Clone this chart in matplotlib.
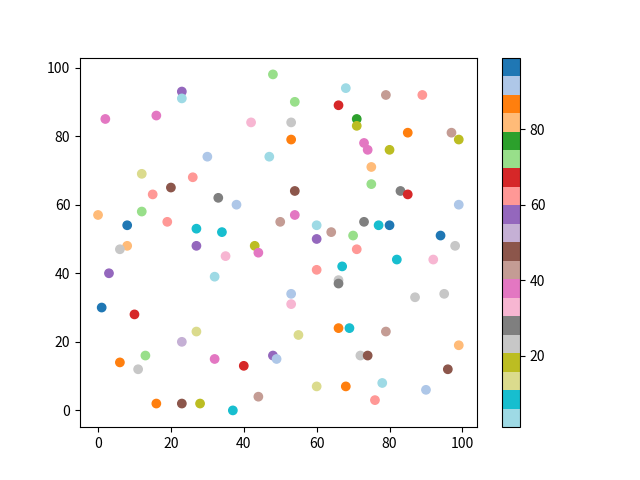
import matplotlib
matplotlib.use("Agg")
import matplotlib.pyplot as plt

plt.rcParams['font.family'] = ['Noto Sans CJK SC', 'DejaVu Sans']

# points: x, y and colour value
x = [48, 23, 23, 2, 16, 42, 30, 47, 12, 26, 20, 15, 33, 38, 0, 12, 8, 19, 27, 34,
     50, 68, 79, 89, 54, 66, 53, 71, 71, 53, 85, 97, 99, 73, 74, 80, 75, 75, 54, 83,
     85, 99, 54, 60, 64, 73, 77, 80, 94, 60, 70, 98, 71, 8, 6, 27, 43, 44, 35, 3,
     32, 1, 10, 27, 23, 13, 6, 11, 32, 40, 48, 49, 44, 16, 23, 28, 37, 60, 67, 82,
     92, 66, 66, 53, 53, 87, 95, 55, 66, 69, 79, 99, 72, 74, 96, 60, 68, 78, 90, 76]
y = [98, 93, 91, 85, 86, 84, 74, 74, 69, 68, 65, 63, 62, 60, 57, 58, 54, 55, 53, 52,
     55, 94, 92, 92, 90, 89, 84, 85, 83, 79, 81, 81, 79, 78, 76, 76, 71, 66, 64, 64,
     63, 60, 57, 54, 52, 55, 54, 54, 51, 50, 51, 48, 47, 48, 47, 48, 48, 46, 45, 40,
     39, 30, 28, 23, 20, 16, 14, 12, 15, 13, 16, 15, 4, 2, 2, 2, 0, 41, 42, 44,
     44, 38, 37, 34, 31, 33, 34, 22, 24, 24, 23, 19, 16, 16, 12, 7, 7, 8, 6, 3]
c = [72, 57, 3, 38, 38, 33, 92, 3, 13, 62, 48, 62, 28, 92, 82, 72, 97, 62, 8, 8,
     43, 3, 43, 62, 72, 67, 23, 77, 18, 87, 87, 43, 18, 38, 38, 18, 82, 72, 48, 28,
     67, 92, 38, 3, 43, 28, 8, 97, 97, 57, 72, 23, 62, 82, 23, 57, 18, 38, 33, 57,
     3, 97, 67, 13, 52, 72, 87, 23, 38, 67, 57, 92, 43, 87, 48, 18, 8, 62, 8, 8,
     33, 23, 28, 92, 33, 23, 23, 13, 87, 8, 43, 82, 23, 48, 48, 13, 87, 3, 92, 62]

fig = plt.figure(figsize=(6.4, 4.8), dpi=100)
sc = plt.scatter(x, y, c=c, cmap='tab20_r', vmin=1, vmax=99)
plt.colorbar(sc)
plt.savefig('out.png')
